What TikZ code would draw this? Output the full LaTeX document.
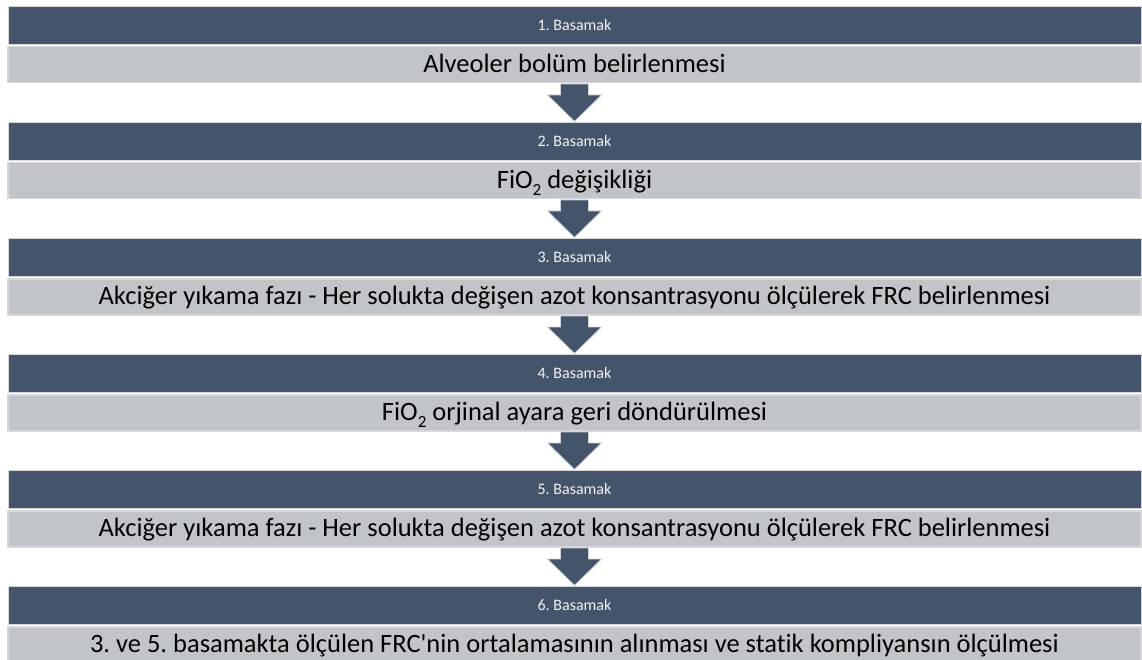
\documentclass[tikz,border=0pt]{standalone}
\usepackage{fontspec}
\setmainfont{Carlito}[Ligatures={TeXOff,NoCommon}]
\frenchspacing
\usetikzlibrary{calc}
\definecolor{darkbar}{HTML}{44546A}
\definecolor{graybar}{HTML}{C1C4C8}
\definecolor{grayedge}{HTML}{D6D8DB}
\definecolor{hdrtext}{HTML}{F2F2F2}
\tikzset{
  hdr/.style={fill=darkbar, draw=grayedge, line width=1pt, minimum width=1133pt, minimum height=38pt,
    inner sep=0pt, text=hdrtext, font=\fontsize{16}{19}\selectfont\frenchspacing, text height=10.3pt, text depth=0pt, anchor=north},
  body/.style={fill=graybar, draw=grayedge, line width=1.5pt, minimum width=1133pt, minimum height=36pt,
    inner sep=0pt, text=black, font=\fontsize{26.5}{31}\selectfont\frenchspacing, text height=20pt, text depth=4pt, anchor=north},
  blockarrow/.style={fill=darkbar, draw=white!75!darkbar, line width=0.8pt},
}
\newcommand{\subtwo}{\raisebox{-0.25em}{\fontsize{17}{20}\selectfont 2}}
\begin{document}
\begin{tikzpicture}[x=1pt,y=-1pt]
\useasboundingbox (0,0) rectangle (1142,660);
\foreach \i/\t/\b in {
  1/{1. Basamak}/{Alveoler bolüm belirlenmesi},
  2/{2. Basamak}/{FiO\subtwo{} değişikliği},
  3/{3. Basamak}/{Akciğer yıkama fazı - Her solukta değişen azot konsantrasyonu ölçülerek FRC belirlenmesi},
  4/{4. Basamak}/{FiO\subtwo{} orjinal ayara geri döndürülmesi},
  5/{5. Basamak}/{Akciğer yıkama fazı - Her solukta değişen azot konsantrasyonu ölçülerek FRC belirlenmesi},
  6/{6. Basamak}/{3. ve 5. basamakta ölçülen FRC'nin ortalamasının alınması ve statik kompliyansın ölçülmesi}} {
  \pgfmathsetmacro{\ytop}{6+116*(\i-1)}
  \node[hdr] (h\i) at (574.5,\ytop) {\t};
  \node[body] (g\i) at ($(h\i.south)+(0,1)$) {\b};
}
\foreach \i [evaluate=\i as \j using int(\i+1)] in {1,...,5} {
  \draw[blockarrow] ($(g\i.south)+(-14,0.5)$) -- ++(0,11) -- ++(-13,0)
    -- ($(h\j.north)+(0,-0.5)$) -- ($(g\i.south)+(27,11.5)$) -- ++(-13,0) -- ++(0,-11) -- cycle;
}
\end{tikzpicture}
\end{document}
